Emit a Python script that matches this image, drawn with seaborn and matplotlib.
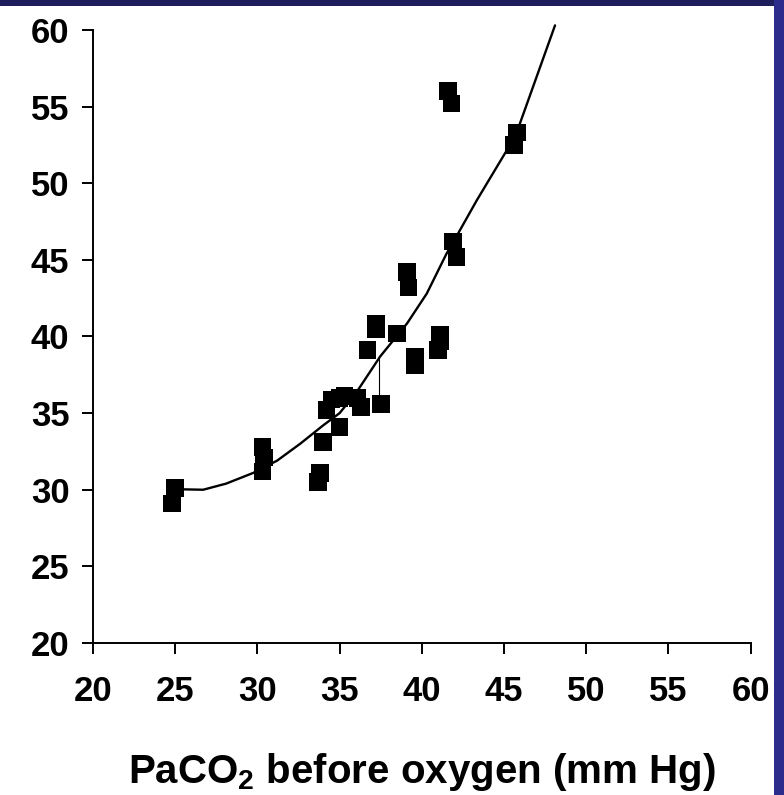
import numpy as np
import pandas as pd
import matplotlib
matplotlib.use("Agg")
import matplotlib.pyplot as plt
import seaborn as sns
from matplotlib.patches import Rectangle

# measured points (PaCO2 before oxygen, PaCO2 after)
x_pts = [24.8, 25.0, 30.3, 30.4, 30.3, 33.7, 33.8, 34.0, 35.0,
         34.2, 34.5, 35.0, 35.3, 36.1, 36.3, 37.5,
         36.7, 37.2, 37.2, 38.5, 39.6, 39.6, 41.0, 41.1, 41.1,
         39.1, 39.2, 41.6, 41.8, 41.9, 42.1, 45.6, 45.8]
y_pts = [29.1, 30.1, 31.2, 32.1, 32.8, 30.5, 31.1, 33.1, 34.1,
         35.2, 35.9, 36.0, 36.1, 36.0, 35.4, 35.6,
         39.1, 40.5, 40.8, 40.2, 38.7, 38.1, 39.1, 39.7, 40.1,
         44.2, 43.2, 56.0, 55.2, 46.2, 45.2, 52.5, 53.3]

# fitted curve
x_fit = [25.0, 25.3, 26.7, 28.1, 29.75, 31.2, 32.6, 34.0, 35.0, 36.05,
         37.47, 39.1, 40.3, 41.5, 42.3, 43.35, 45.7, 48.1]
y_fit = [30.0, 30.03, 30.0, 30.4, 31.1, 31.9, 33.0, 34.2, 35.0, 36.4,
         38.7, 40.85, 42.8, 45.4, 46.9, 48.9, 53.1, 60.3]

# thin residual stroke near x=37.4
x_res = [37.4, 37.4]
y_res = [35.9, 38.5]

ticks = [20, 25, 30, 35, 40, 45, 50, 55, 60]

pts = pd.DataFrame({"x": x_pts, "y": y_pts})
fit = pd.DataFrame({"x": x_fit, "y": y_fit})

sns.set_style("ticks")
plt.rcParams["font.family"] = ["Liberation Sans", "DejaVu Sans"]
plt.rcParams["font.weight"] = "bold"
plt.rcParams["mathtext.default"] = "regular"
plt.rcParams["text.color"] = "black"
plt.rcParams["xtick.color"] = "black"
plt.rcParams["ytick.color"] = "black"

fig = plt.figure(figsize=(7.84, 7.95), dpi=100)
fig.patch.set_facecolor("white")
ax = fig.add_axes([0.1186, 0.1912, 0.8389, 0.7711])

sns.lineplot(data=fit, x="x", y="y", sort=False, color="black", lw=1.7, ax=ax,
             clip_on=False, solid_joinstyle="round")
ax.plot(x_res, y_res, color="black", lw=0.8)
sns.scatterplot(data=pts, x="x", y="y", marker="s", s=160, color="black",
                edgecolor="none", ax=ax, zorder=3)

ax.set_xlim(20, 60)
ax.set_ylim(20, 60)
ax.set_xticks(ticks)
ax.set_yticks(ticks)
ax.tick_params(direction="out", length=8, width=1.4, labelsize=25, pad=9,
               color="black", labelcolor="black")
ax.tick_params(axis="x", pad=15)
for lab in ax.get_xticklabels() + ax.get_yticklabels():
    lab.set_fontweight("bold")
ax.set_xlabel("PaCO$_2$ before oxygen (mm Hg)", fontsize=29, fontweight="bold",
              labelpad=31, color="black")
ax.set_ylabel("")
sns.despine(ax=ax)
for s in ["left", "bottom"]:
    ax.spines[s].set_linewidth(1.4)
    ax.spines[s].set_color("black")

# navy frame strips of the slide
fig.patches.append(Rectangle((0, 1 - 6 / 795), 1, 6 / 795, transform=fig.transFigure,
                             facecolor="#1e1e5c", edgecolor="none", zorder=10))
fig.patches.append(Rectangle((774 / 784, 0), 10 / 784, 1, transform=fig.transFigure,
                             facecolor="#2c2c8c", edgecolor="none", zorder=10))

fig.savefig("out.png", dpi=100)
